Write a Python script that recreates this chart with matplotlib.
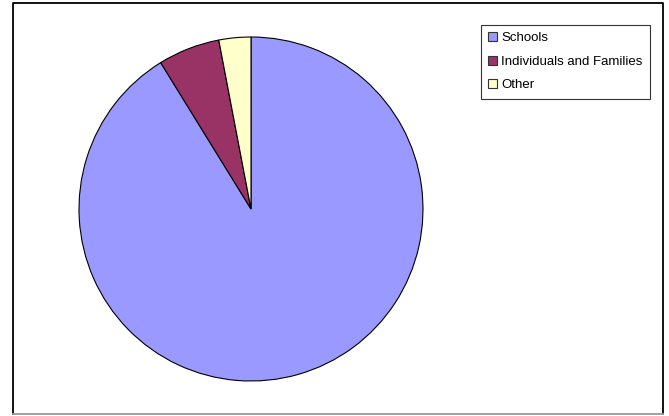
import matplotlib.pyplot as plt
from matplotlib.patches import Patch
from matplotlib.lines import Line2D

categories = ["Schools", "Individuals and Families", "Other"]
shares = [91.2, 5.8, 3.0]
colors = ["#9999ff", "#993366", "#ffffcc"]

W, H = 669, 416
fig = plt.figure(figsize=(W / 100, H / 100), dpi=100)
fig.set_facecolor("white")
plt.rcParams["font.family"] = ["Liberation Sans", "DejaVu Sans"]

# outer chart frame
fig.add_artist(Line2D([13 / W, 13 / W, 662.5 / W, 662.5 / W],
                      [1 - 414 / H, 1 - 3 / H, 1 - 3 / H, 1 - 414 / H],
                      color="black", lw=1.3))
fig.add_artist(Line2D([13 / W, 662.5 / W], [1 - 414 / H, 1 - 414 / H],
                      color="#999999", lw=1.3))

# pie area, center (251, 209), radius 172 px
cx, cy, r = 251, 209, 172
ax = fig.add_axes([(cx - r) / W, 1 - (cy + r) / H, 2 * r / W, 2 * r / H])
ax.pie(shares, colors=colors, startangle=90, counterclock=False,
       radius=1, wedgeprops=dict(edgecolor="black", linewidth=0.8))
ax.set_xlim(-1.0, 1.0)
ax.set_ylim(-1.0, 1.0)
ax.set_aspect("equal")
ax.axis("off")

handles = [Patch(facecolor=c, edgecolor="#333333", linewidth=0.8) for c in colors]
leg = fig.legend(handles, categories, loc="upper left",
                 bbox_to_anchor=(481 / W, 1 - 25 / H), fontsize=9.5,
                 frameon=True, fancybox=False, edgecolor="black",
                 handlelength=0.7, handleheight=0.7, handletextpad=0.3,
                 labelspacing=0.85, borderpad=0.55, borderaxespad=0)
leg.get_frame().set_linewidth(0.8)

fig.savefig("out.png", dpi=100)
